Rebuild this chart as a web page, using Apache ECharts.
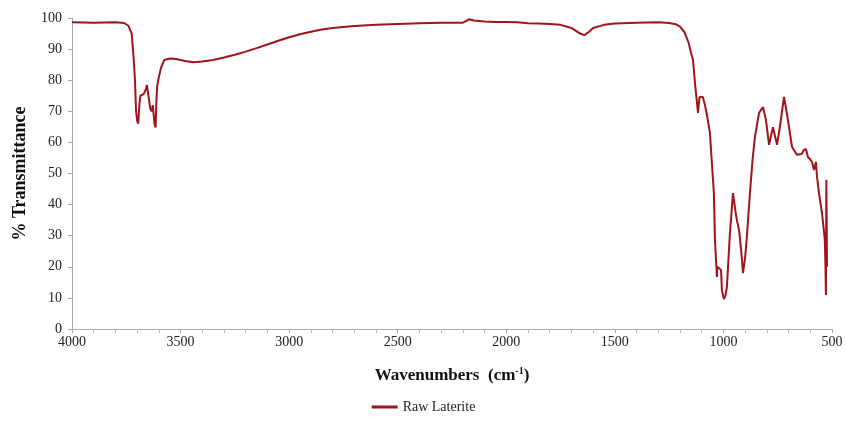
<!DOCTYPE html>
<html>
<head>
<meta charset="utf-8">
<script src="https://cdn.jsdelivr.net/npm/echarts@6/dist/echarts.min.js"></script>
<style>
  html, body { margin: 0; padding: 0; background: #fff; }
  #chart { width: 847px; height: 421px; }
</style>
</head>
<body>
<div id="chart"></div>
<script>
const wavenumbers = [
  4000, 3900, 3800, 3760, 3740, 3725, 3715, 3710, 3705, 3700, 3695, 3690, 3685, 3670, 3660, 3655,
  3648, 3640, 3633, 3628, 3620, 3615, 3612, 3608, 3600, 3590, 3575, 3550, 3520, 3480, 3440, 3400,
  3350, 3300, 3250, 3200, 3150, 3100, 3050, 3000, 2950, 2900, 2850, 2800, 2700, 2600, 2500, 2400,
  2300, 2200, 2170, 2150, 2100, 2050, 2000, 1950, 1900, 1850, 1800, 1750, 1700, 1660, 1640, 1620,
  1600, 1550, 1500, 1400, 1300, 1250, 1220, 1200, 1180, 1160, 1150, 1140, 1131, 1125, 1120, 1117,
  1114, 1110, 1095, 1085, 1076, 1062, 1055, 1044, 1039, 1030, 1028, 1020, 1011, 1007, 998, 990,
  984, 970, 956, 945, 938, 928, 918, 910, 900, 892, 878, 865, 855, 836, 818, 804,
  790, 772, 753, 738, 721, 712, 703, 684, 661, 640, 630, 620, 611, 600, 592, 583,
  574, 569, 560, 546, 538, 533, 530, 528, 526, 523
];
// % transmittance
const transmittance = [
  98.6, 98.5, 98.6, 98.4, 97.5, 95, 86, 80, 70, 67, 66, 72, 75, 75.5, 77, 78.5,
  75, 71, 70, 72, 66, 64.8, 72, 78, 81, 84, 86.5, 87, 86.8, 86.2, 85.8, 86,
  86.5, 87.3, 88.2, 89.2, 90.3, 91.5, 92.7, 93.8, 94.8, 95.6, 96.3, 96.8, 97.4, 97.8, 98.1, 98.3,
  98.5, 98.5, 99.6, 99.2, 98.9, 98.7, 98.7, 98.6, 98.3, 98.2, 98.1, 97.8, 96.8, 95, 94.5, 95.5,
  96.8, 97.8, 98.2, 98.5, 98.6, 98.4, 98, 97.2, 95.5, 92, 89, 86.5, 79, 75, 75, 69.5,
  69.5, 74.6, 74.6, 72, 68.8, 63, 55.3, 43.7, 28.6, 16.7, 20, 19.5, 19, 12.5, 9.6, 11,
  13.5, 30.9, 43.7, 38, 35, 31.8, 25, 18, 23, 29.6, 43.7, 55, 61.7, 69.5, 71.4, 67.2,
  59.2, 64.9, 59.2, 66, 74.6, 71, 67.2, 58.5, 56, 56.3, 57.5, 57.9, 55.3, 54.5, 53.7, 51.1,
  53.7, 48.9, 43.7, 37.3, 32, 28.6, 20, 10.9, 48, 20
];
const seriesName = 'Raw Laterite';

const serif = '"Liberation Serif", "DejaVu Serif", serif';
const chart = echarts.init(document.getElementById('chart'));

chart.setOption({
  animation: false,
  grid: { left: 72, right: 15, top: 18, bottom: 92 },
  legend: {
    bottom: 2,
    left: 'center',
    itemWidth: 26,
    itemHeight: 3,
    icon: 'rect',
    textStyle: { fontFamily: serif, fontSize: 14, color: '#222' },
    data: [seriesName]
  },
  xAxis: {
    type: 'value',
    inverse: true,
    min: 500,
    max: 4000,
    interval: 500,
    name: 'Wavenumbers  (cm{sup|-1})',
    nameLocation: 'middle',
    nameGap: 37,
    nameTextStyle: {
      fontFamily: serif, fontSize: 17, fontWeight: 'bold', color: '#111',
      rich: {
        sup: { fontFamily: serif, fontSize: 10, fontWeight: 'bold', color: '#111', padding: [0, 0, 9, 0] }
      }
    },
    axisLine: { lineStyle: { color: '#aaa' } },
    axisTick: { show: true, length: 4, lineStyle: { color: '#aaa' } },
    minorTick: { show: true, splitNumber: 5, length: 4, lineStyle: { color: '#bbb' } },
    splitLine: { show: false },
    axisLabel: {
      fontFamily: serif, fontSize: 14, color: '#222', margin: 6,
      formatter: v => String(v)
    }
  },
  yAxis: {
    type: 'value',
    min: 0,
    max: 100,
    interval: 10,
    name: '% Transmittance',
    nameLocation: 'middle',
    nameGap: 43,
    nameTextStyle: { fontFamily: serif, fontSize: 18, fontWeight: 'bold', color: '#111' },
    axisLine: { show: true, lineStyle: { color: '#aaa' } },
    axisTick: { show: true, length: 4, lineStyle: { color: '#aaa' } },
    splitLine: { show: false },
    axisLabel: { fontFamily: serif, fontSize: 14, color: '#222', margin: 10 }
  },
  series: [{
    name: seriesName,
    type: 'line',
    symbol: 'none',
    smooth: false,
    color: '#a0141c',
    lineStyle: { width: 2, color: '#a0141c' },
    data: wavenumbers.map((w, i) => [w, transmittance[i]])
  }]
});
</script>
</body>
</html>
